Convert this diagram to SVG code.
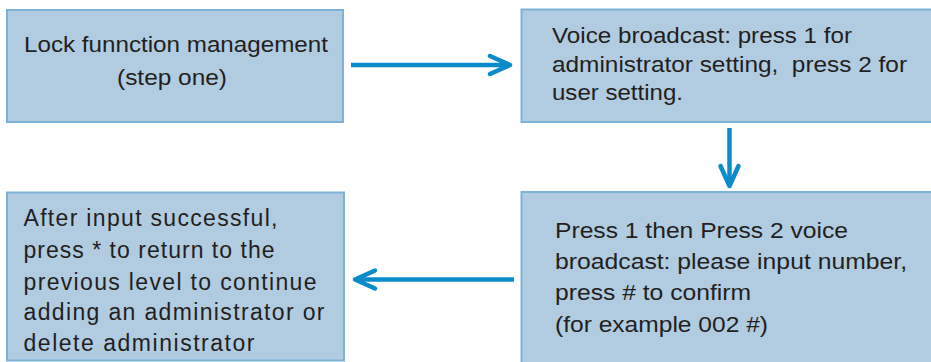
<svg xmlns="http://www.w3.org/2000/svg" width="931" height="362" viewBox="0 0 931 362">
  <style>
    .box { fill: #b1cbe1; stroke: #7db2d8; stroke-width: 2; }
    .t { font-family: "Liberation Sans", Arial, sans-serif; font-size: 22px; fill: #231f20; }
    .t4 { font-family: "Liberation Sans", Arial, sans-serif; font-size: 23px; fill: #231f20; }
    .conn { stroke: #0a8ccb; stroke-width: 4.5; fill: none; }
  </style>
  <defs>
    <marker id="chev" markerUnits="userSpaceOnUse" markerWidth="30" markerHeight="30" viewBox="-4 -14 30 28" refX="20" refY="0" orient="auto">
      <path d="M0,-9 L20,0 L0,9" fill="none" stroke="#0a8ccb" stroke-width="4.5" stroke-linecap="round" stroke-linejoin="round"/>
    </marker>
  </defs>
  <rect width="931" height="362" fill="#ffffff"/>

  <g id="node-lock-management">
    <rect class="box" x="7" y="10" width="336" height="112"/>
    <text class="t" x="24" y="52" textLength="304" lengthAdjust="spacingAndGlyphs">Lock funnction management</text>
    <text class="t" x="117" y="85" textLength="110" lengthAdjust="spacingAndGlyphs">(step one)</text>
  </g>

  <g id="node-voice-broadcast">
    <rect class="box" x="521.5" y="9.5" width="420" height="112.5"/>
    <text class="t" x="552" y="43" textLength="300" lengthAdjust="spacingAndGlyphs">Voice broadcast: press 1 for</text>
    <text class="t" x="552" y="71.5" textLength="355" lengthAdjust="spacingAndGlyphs" xml:space="preserve">administrator setting,  press 2 for</text>
    <text class="t" x="552" y="100" textLength="131" lengthAdjust="spacingAndGlyphs">user setting.</text>
  </g>

  <g id="node-press-input">
    <rect class="box" x="521.5" y="192" width="420" height="180"/>
    <text class="t" x="555" y="238" textLength="293" lengthAdjust="spacingAndGlyphs">Press 1 then Press 2 voice</text>
    <text class="t" x="555" y="269" textLength="352" lengthAdjust="spacingAndGlyphs">broadcast: please input number,</text>
    <text class="t" x="555" y="300" textLength="196" lengthAdjust="spacingAndGlyphs">press # to confirm</text>
    <text class="t" x="555" y="331.5" textLength="213" lengthAdjust="spacingAndGlyphs">(for example 002 #)</text>
  </g>

  <g id="node-after-input">
    <rect class="box" x="7" y="192.5" width="337" height="168"/>
    <text class="t4" x="23.5" y="226" textLength="254" lengthAdjust="spacing">After input successful,</text>
    <text class="t4" x="23.5" y="258" textLength="251" lengthAdjust="spacing">press * to return to the</text>
    <text class="t4" x="23.5" y="289.5" textLength="293" lengthAdjust="spacing">previous level to continue</text>
    <text class="t4" x="23.5" y="320" textLength="301" lengthAdjust="spacing">adding an administrator or</text>
    <text class="t4" x="23.5" y="350.5" textLength="231" lengthAdjust="spacing">delete administrator</text>
  </g>

  <g id="connectors">
    <line class="conn" x1="351" y1="65" x2="510" y2="65" marker-end="url(#chev)"/>
    <line class="conn" x1="729.5" y1="128" x2="729.5" y2="186" marker-end="url(#chev)"/>
    <line class="conn" x1="514" y1="279.5" x2="355" y2="279.5" marker-end="url(#chev)"/>
  </g>
</svg>
